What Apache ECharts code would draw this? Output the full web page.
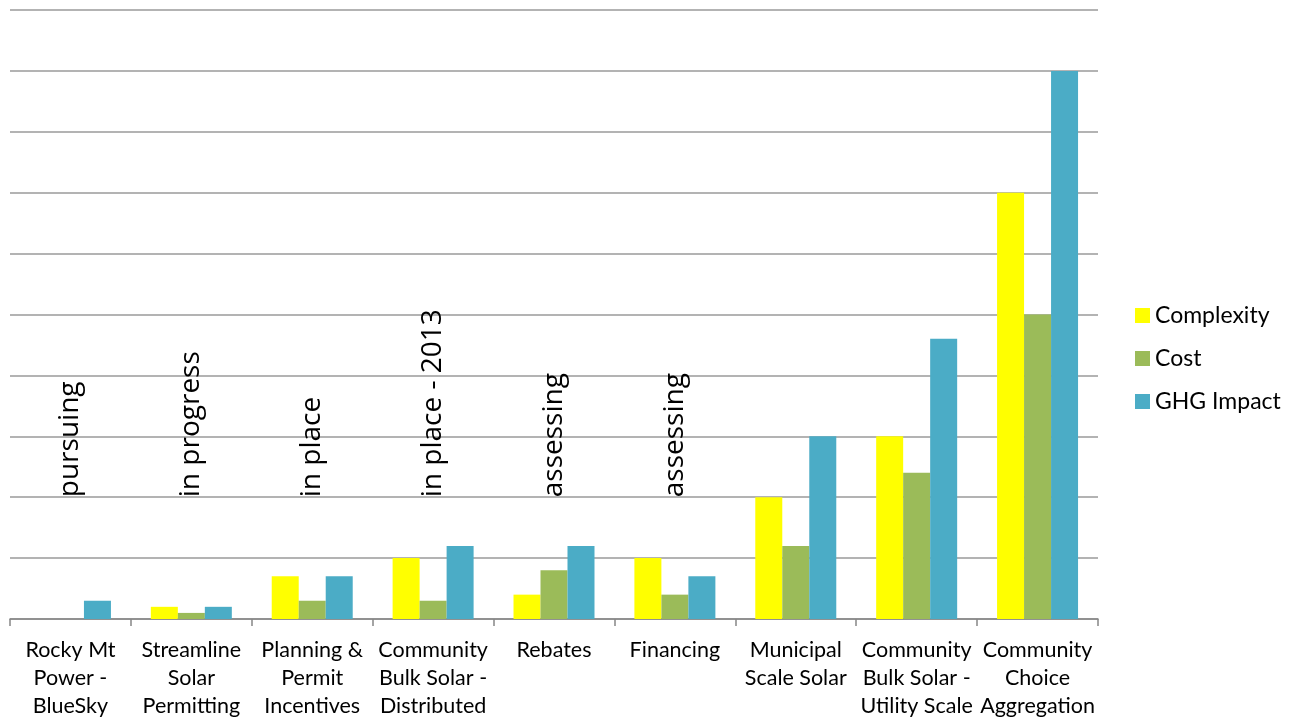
<!DOCTYPE html>
<html><head><meta charset="utf-8">
<script src="https://cdn.jsdelivr.net/npm/echarts@6/dist/echarts.min.js"></script>
<style>html,body{margin:0;padding:0;background:#fff}#c{width:1291px;height:720px}</style>
</head><body><div id="c"></div>
<script>
const categories = ["Rocky Mt\nPower -\nBlueSky","Streamline\nSolar\nPermitting","Planning &\nPermit\nIncentives","Community\nBulk Solar -\nDistributed","Rebates","Financing","Municipal\nScale Solar","Community\nBulk Solar -\nUtility Scale","Community\nChoice\nAggregation"];
const complexity = [0, 0.2, 0.7, 1, 0.4, 1, 2, 3, 7];
const cost = [0, 0.1, 0.3, 0.3, 0.8, 0.4, 1.2, 2.4, 5];
const ghgImpact = [0.3, 0.2, 0.7, 1.2, 1.2, 0.7, 3, 4.6, 9];
const statusLabels = ["pursuing","in progress","in place","in place - 2013","assessing","assessing","","",""];
const statusBase = [2, 2, 2, 2, 2, 2, null, null, null];

const font = 'Lato, "Open Sans", sans-serif';
const chart = echarts.init(document.getElementById('c'), null, {renderer:'canvas'});
chart.setOption({
  animation:false,
  backgroundColor:'#fff',
  grid:{left:10,right:193,top:10,bottom:100},
  legend:{
    orient:'vertical', left:1130, top:299, itemWidth:15, itemHeight:15, itemGap:20,
    icon:'rect',
    textStyle:{fontFamily:font,fontSize:23,color:'#000',padding:[0,0,0,0]},
    data:['Complexity','Cost','GHG Impact']
  },
  xAxis:{
    type:'category', data:categories,
    axisLine:{lineStyle:{color:'#868686',width:1.5}},
    axisTick:{show:true,length:7,lineStyle:{color:'#868686',width:1.5}},
    axisLabel:{interval:0,fontFamily:font,fontSize:21.5,color:'#000',lineHeight:28,margin:17}
  },
  yAxis:{
    type:'value', min:0, max:10, interval:1,
    axisLabel:{show:false}, axisLine:{show:false}, axisTick:{show:false},
    splitLine:{lineStyle:{color:'#9a9a9a',width:1.5}}
  },
  series:[
    {name:'Complexity',type:'bar',data:complexity,barGap:'0%',barCategoryGap:'33%',itemStyle:{color:'#FFFF00'}},
    {name:'Cost',type:'bar',data:cost,itemStyle:{color:'#9BBB59'}},
    {name:'GHG Impact',type:'bar',data:ghgImpact,itemStyle:{color:'#4BACC6'}},
    {name:'status',type:'scatter',symbolSize:0,data:statusBase.map((v,i)=>({value:v,label:{formatter:statusLabels[i]}})),
      label:{show:true,position:'inside',rotate:90,align:'left',verticalAlign:'middle',
        fontFamily:'"Open Sans", sans-serif',fontSize:28,color:'#000',opacity:1},
      emphasis:{disabled:true}, silent:true, z:5}
  ]
});
</script></body></html>
